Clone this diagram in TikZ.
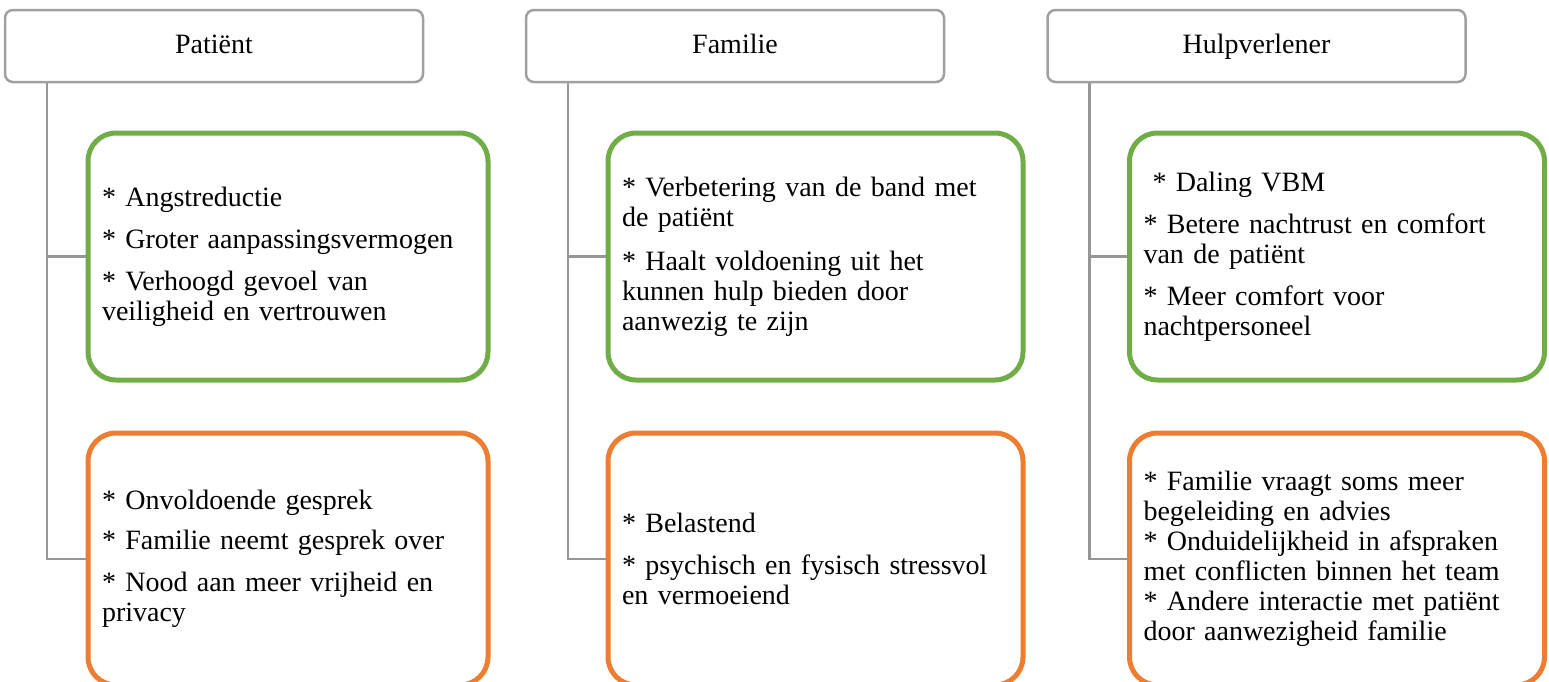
\documentclass[tikz,border=0pt]{standalone}
\usepackage{fontspec}
\setmainfont{Liberation Serif}
\usepackage{xcolor}
\usepackage{tikz}
\usetikzlibrary{positioning, backgrounds}

\definecolor{groen}{RGB}{112,173,71}
\definecolor{oranje}{RGB}{237,125,49}
\definecolor{kadergrijs}{RGB}{160,160,160}
\definecolor{lijngrijs}{RGB}{150,150,150}

\begin{document}
\begin{tikzpicture}[
    x=0.5pt, y=-0.5pt,
    font=\fontsize{14}{15}\selectfont,
    kop/.style={rectangle, draw=kadergrijs, line width=1.25pt, rounded corners=4pt, fill=white, outer sep=0pt, minimum width=209pt, minimum height=36pt, text height=10pt, text depth=3pt},
    vak/.style={rectangle, rounded corners=14pt, line width=2.5pt, fill=white, outer sep=0pt, align=left, inner xsep=7pt, minimum height=123.5pt},
    smal/.style={text width=186pt},
    breed/.style={text width=193.5pt},
    voordeel/.style={vak, draw=groen},
    nadeel/.style={vak, draw=oranje, minimum height=126pt},
    tak/.style={draw=lijngrijs, line width=1.25pt}
]
\useasboundingbox (0,0) rectangle (1549,681);

% Bovenste rij - de drie groepen
\node [kop] (pat) at (214,46) {Patiënt};
\node [kop] (fam) at (735,46) {Familie};
\node [kop] (hulp) at (1256.5,46) {Hulpverlener};

% Tweede rij - voordelen
\node [voordeel, smal, below right=25.5pt and 41.5pt of pat.south west] (patplus) {* Angstreductie\\[6pt]* Groter aanpassingsvermogen\\[6pt]* Verhoogd gevoel van\\veiligheid en vertrouwen};
\node [voordeel, breed, below right=25.5pt and 41pt of fam.south west] (famplus) {* Verbetering van de band met\\de patiënt\\[7pt]* Haalt voldoening uit het\\kunnen hulp bieden door\\aanwezig te zijn};
\node [voordeel, breed, below right=25.5pt and 41pt of hulp.south west] (hulpplus) {\hspace*{4.5pt}* Daling VBM\\[6pt]* Betere nachtrust en comfort\\van de patiënt\\[6pt]* Meer comfort voor\\nachtpersoneel};

% Derde rij - nadelen
\node [nadeel, smal, below=26.5pt of patplus] (patmin) {* Onvoldoende gesprek\\[5pt]* Familie neemt gesprek over\\[6pt]* Nood aan meer vrijheid en\\privacy};
\node [nadeel, breed, below=26.5pt of famplus] (fammin) {* Belastend\\[6pt]* psychisch en fysisch stressvol\\en vermoeiend};
\node [nadeel, breed, below=26.5pt of hulpplus] (hulpmin) {* Familie vraagt soms meer\\begeleiding en advies\\{*} Onduidelijkheid in afspraken\\met conflicten binnen het team\\{*} Andere interactie met patiënt\\door aanwezigheid familie};

% Takken
\begin{scope}[on background layer]
\draw [tak] ([xshift=21pt]pat.south west) |- (patplus.west);
\draw [tak] ([xshift=21pt]pat.south west) |- (patmin.west);
\draw [tak] ([xshift=21pt]fam.south west) |- (famplus.west);
\draw [tak] ([xshift=21pt]fam.south west) |- (fammin.west);
\draw [tak] ([xshift=21pt]hulp.south west) |- (hulpplus.west);
\draw [tak] ([xshift=21pt]hulp.south west) |- (hulpmin.west);
\end{scope}

\end{tikzpicture}
\end{document}
